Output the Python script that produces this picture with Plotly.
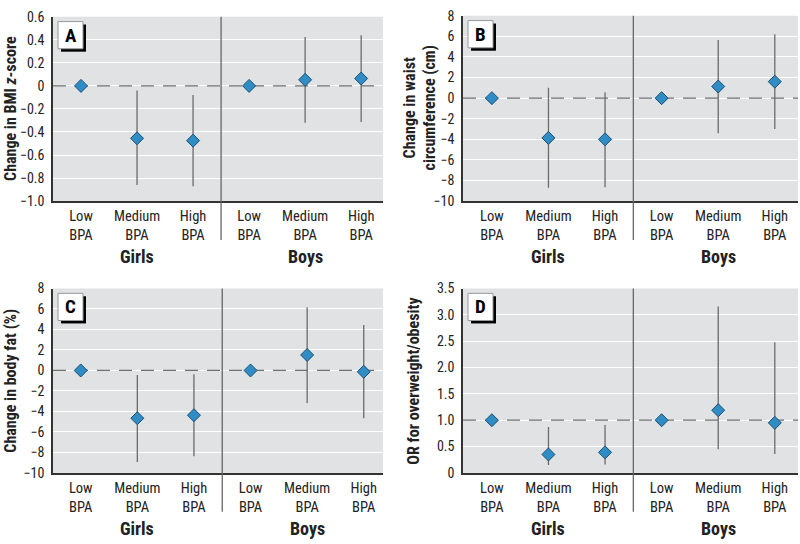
import plotly.graph_objects as go

# ---------------- data ----------------
categories = ["Low<br>BPA", "Medium<br>BPA", "High<br>BPA", "Low<br>BPA", "Medium<br>BPA", "High<br>BPA"]
groups = ["Girls", "Boys"]

bmi_est = [0, -0.455, -0.475, 0, 0.053, 0.064]
bmi_lo = [0, -0.86, -0.87, 0, -0.32, -0.313]
bmi_hi = [0, -0.04, -0.08, 0, 0.424, 0.44]

waist_est = [0, -3.86, -4.0, 0, 1.13, 1.6]
waist_lo = [0, -8.7, -8.65, 0, -3.4, -3.0]
waist_hi = [0, 1.0, 0.57, 0, 5.65, 6.2]

fat_est = [0, -4.66, -4.37, 0, 1.51, -0.13]
fat_lo = [0, -8.94, -8.37, 0, -3.18, -4.66]
fat_hi = [0, -0.44, -0.38, 0, 6.17, 4.44]

or_est = [1, 0.35, 0.39, 1, 1.19, 0.95]
or_lo = [1, 0.15, 0.16, 1, 0.45, 0.36]
or_hi = [1, 0.87, 0.91, 1, 3.16, 2.48]

ticks_a = [0.6, 0.4, 0.2, 0, -0.2, -0.4, -0.6, -0.8, -1.0]
ticktext_a = ["0.6", "0.4", "0.2", "0", "−0.2", "−0.4", "−0.6", "−0.8", "−1.0"]
ticks_bc = [8, 6, 4, 2, 0, -2, -4, -6, -8, -10]
ticktext_bc = ["8", "6", "4", "2", "0", "−2", "−4", "−6", "−8", "−10"]
ticks_d = [3.5, 3.0, 2.5, 2.0, 1.5, 1.0, 0.5, 0]
ticktext_d = ["3.5", "3.0", "2.5", "2.0", "1.5", "1.0", "0.5", "0"]

titles = ["Change in BMI <i>z</i>-score", "Change in waist<br>circumference (cm)",
          "Change in body fat (%)", "OR for overweight/obesity"]
letters = ["A", "B", "C", "D"]

# ---------------- layout helpers ----------------
W, H = 800, 544
FONT = "Roboto Condensed, Liberation Sans Narrow, Roboto, sans-serif"
BG = "#e1e2e4"
MARK = "#2f8cc4"


def fx(px):
    return px / W


def fy(py):
    return 1 - py / H


panels = [
    dict(est=bmi_est, lo=bmi_lo, hi=bmi_hi, yr=[-1.0, 0.6], tv=ticks_a, tt=ticktext_a, ref=0,
         xl=53, xr=383, yt=9, yb=199, xrng=[-0.5, 5.39], tx=11),
    dict(est=waist_est, lo=waist_lo, hi=waist_hi, yr=[-10, 8], tv=ticks_bc, tt=ticktext_bc, ref=0,
         xl=463, xr=798, yt=8, yb=199, xrng=[-0.51, 5.41], tx=420),
    dict(est=fat_est, lo=fat_lo, hi=fat_hi, yr=[-10, 8], tv=ticks_bc, tt=ticktext_bc, ref=0,
         xl=53, xr=383, yt=289, yb=479, xrng=[-0.49, 5.34], tx=11),
    dict(est=or_est, lo=or_lo, hi=or_hi, yr=[0, 3.5], tv=ticks_d, tt=ticktext_d, ref=1,
         xl=463, xr=798, yt=289, yb=479, xrng=[-0.51, 5.41], tx=414),
]

fig = go.Figure()
shapes = []
annotations = []
xpos = list(range(len(categories)))

for i, p in enumerate(panels):
    n = "" if i == 0 else str(i + 1)
    xa, ya = "x" + n, "y" + n
    # dashed reference line (drawn as a trace so it sits above the white grid)
    fig.add_trace(go.Scatter(
        x=p["xrng"], y=[p["ref"], p["ref"]], xaxis=xa, yaxis=ya, mode="lines",
        line=dict(color="#707070", width=1.3, dash="13px,9px"),
        showlegend=False, hoverinfo="skip", cliponaxis=False))
    plus = [h - e for h, e in zip(p["hi"], p["est"])]
    minus = [e - l for e, l in zip(p["est"], p["lo"])]
    fig.add_trace(go.Scatter(
        x=xpos, y=p["est"], xaxis=xa, yaxis=ya, mode="markers",
        marker=dict(symbol="diamond", size=10, color=MARK, line=dict(color="#1f4f70", width=1)),
        error_y=dict(type="data", symmetric=False, array=plus, arrayminus=minus,
                     thickness=1.3, width=0, color="#6b6b6b"),
        showlegend=False, hoverinfo="skip"))

    fig.update_layout(**{
        "xaxis" + n: dict(domain=[fx(p["xl"]), fx(p["xr"])], anchor=ya, range=p["xrng"],
                          tickvals=xpos, ticktext=categories, showgrid=False, zeroline=False,
                          showline=True, linecolor="#333", linewidth=1.5,
                          ticks="outside", ticklen=1, tickcolor="rgba(0,0,0,0)",
                          tickfont=dict(family=FONT, size=14.5, color="#222"), fixedrange=True),
        "yaxis" + n: dict(domain=[fy(p["yb"]), fy(p["yt"])], anchor=xa, range=p["yr"],
                          tickvals=p["tv"], ticktext=p["tt"], showgrid=True, gridcolor="white",
                          gridwidth=1.2, zeroline=False, showline=True, linecolor="#333",
                          linewidth=1.5, ticks="outside", ticklen=4, tickcolor="rgba(0,0,0,0)",
                          tickfont=dict(family=FONT, size=14, color="#222"), fixedrange=True),
    })

    # divider between girls and boys
    shapes.append(dict(type="line", xref=xa, yref="paper", x0=2.5, x1=2.5,
                       y0=fy(p["yb"] + 40), y1=fy(p["yt"]), layer="above",
                       line=dict(color="#666", width=1.3)))
    # panel letter box: shadow + box
    bx0, by0 = p["xl"] + 5, p["yt"] + 5
    shapes.append(dict(type="rect", xref="paper", yref="paper", x0=fx(bx0 + 3), x1=fx(bx0 + 28),
                       y0=fy(by0 + 31), y1=fy(by0 + 3), fillcolor="black",
                       line=dict(width=0), layer="above"))
    shapes.append(dict(type="rect", xref="paper", yref="paper", x0=fx(bx0), x1=fx(bx0 + 25),
                       y0=fy(by0 + 28), y1=fy(by0), fillcolor="white",
                       line=dict(color="#999", width=1), layer="above"))
    annotations.append(dict(text="<b>" + letters[i] + "</b>", xref="paper", yref="paper",
                            x=fx(bx0 + 12.5), y=fy(by0 + 14), xanchor="center", yanchor="middle",
                            showarrow=False, font=dict(family=FONT, size=19, color="black")))
    # y title
    annotations.append(dict(text="<b>" + titles[i] + "</b>", xref="paper", yref="paper",
                            x=fx(p["tx"]), y=fy((p["yt"] + p["yb"]) / 2), textangle=-90,
                            xanchor="center", yanchor="middle", showarrow=False,
                            font=dict(family=FONT, size=16, color="#222")))
    # group labels
    for g, gx in zip(groups, [1, 4]):
        annotations.append(dict(text="<b>" + g + "</b>", xref=xa, yref="paper",
                                x=gx, y=fy(p["yb"] + 57), xanchor="center", yanchor="middle",
                                showarrow=False, font=dict(family=FONT, size=18, color="#222")))

fig.update_layout(
    width=W, height=H, margin=dict(l=0, r=0, t=0, b=0),
    paper_bgcolor="white", plot_bgcolor=BG,
    shapes=shapes, annotations=annotations,
)

fig.write_html("out.html", post_script="document.body.style.margin='0';",
               config={"displayModeBar": False})
